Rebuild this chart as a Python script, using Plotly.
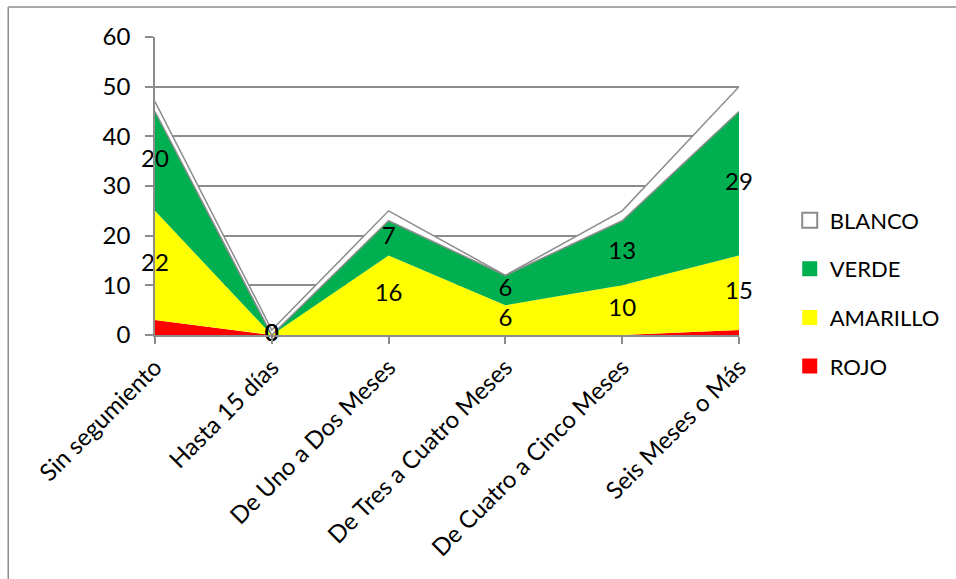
import plotly.graph_objects as go

categories = ["Sin segumiento", "Hasta 15 días", "De Uno a Dos Meses",
              "De Tres a Cuatro Meses", "De Cuatro a Cinco Meses", "Seis Meses o Más"]
rojo = [3, 0, 0, 0, 0, 1]
amarillo = [22, 0, 16, 6, 10, 15]
verde = [20, 0, 7, 6, 13, 29]
blanco = [2, 1, 2, 0, 2, 5]
rojo_labels = ["", "0", "", "", "", ""]
y_ticks = [0, 10, 20, 30, 40, 50, 60]

FONT = "Lato"
GRAY = "#8c8c8c"
x = list(range(len(categories)))

fig = go.Figure()

series = [
    ("ROJO", rojo, "#ff0000", 0, "rgba(0,0,0,0)"),
    ("AMARILLO", amarillo, "#ffff00", 0, "rgba(0,0,0,0)"),
    ("VERDE", verde, "#00b050", 1.5, GRAY),
    ("BLANCO", blanco, "#ffffff", 1.5, GRAY),
]
for name, vals, color, lw, lc in series:
    fig.add_trace(go.Scatter(
        x=x, y=vals, name=name, stackgroup="s", mode="lines",
        fillcolor=color, line=dict(width=lw, color=lc),
        showlegend=False, hoverinfo="skip"))

# data labels placed at the middle of each band
base_r = [0] * len(x)
top_r = [b + v for b, v in zip(base_r, rojo)]
top_a = [b + v for b, v in zip(top_r, amarillo)]
top_v = [b + v for b, v in zip(top_a, verde)]

def mid(lo, hi):
    return [(a + b) / 2 for a, b in zip(lo, hi)]

label_sets = [
    (mid(base_r, top_r), rojo_labels),
    (mid(top_r, top_a), [str(v) for v in amarillo]),
    (mid(top_a, top_v), [str(v) for v in verde]),
]
for ys, txt in label_sets:
    fig.add_trace(go.Scatter(
        x=x, y=ys, text=txt, mode="text", textposition="middle center",
        textfont=dict(family=FONT, size=24, color="#000000"),
        showlegend=False, hoverinfo="skip", cliponaxis=False))

# legend entries as square swatches
for name, vals, color, lw, lc in reversed(series):
    border = GRAY if name == "BLANCO" else color
    fig.add_trace(go.Scatter(
        x=[None], y=[None], name=name, mode="markers", legendgroup=name,
        marker=dict(symbol="square", size=15, color=color,
                    line=dict(color=border, width=2 if name == "BLANCO" else 0))))

fig.update_layout(
    width=956, height=579,
    margin=dict(l=155, r=216, t=37, b=244),
    paper_bgcolor="white", plot_bgcolor="white",
    font=dict(family=FONT, size=24, color="#000000"),
    legend=dict(x=1.085, y=0.455, xanchor="left", yanchor="top",
                traceorder="grouped", tracegroupgap=17,
                font=dict(family=FONT, size=22), itemwidth=30,
                bgcolor="rgba(0,0,0,0)"),
    xaxis=dict(range=[0, len(x) - 1], tickvals=x, ticktext=categories,
               tickangle=-45, showgrid=False, showline=True, linecolor=GRAY,
               linewidth=1.5, ticks="outside", ticklen=7, tickcolor=GRAY,
               tickwidth=1.5, zeroline=False,
               tickfont=dict(family=FONT, size=24)),
    yaxis=dict(range=[0, 60], tickvals=y_ticks, showgrid=True, gridcolor=GRAY,
               gridwidth=1.5, showline=True, linecolor=GRAY, linewidth=1.5,
               ticks="outside", ticklen=8, tickcolor=GRAY, tickwidth=1.5,
               ticklabelstandoff=10,
               zeroline=False, tickfont=dict(family=FONT, size=24)),
    shapes=[
        dict(type="line", xref="paper", yref="paper", x0=-0.2513, x1=-0.2513,
             y0=1.1007, y1=-0.9, line=dict(color=GRAY, width=1.5)),
        dict(type="line", xref="paper", yref="paper", x0=-0.2513, x1=1.4,
             y0=1.1007, y1=1.1007, line=dict(color=GRAY, width=1.5)),
    ],
)

fig.write_html("out.html")
